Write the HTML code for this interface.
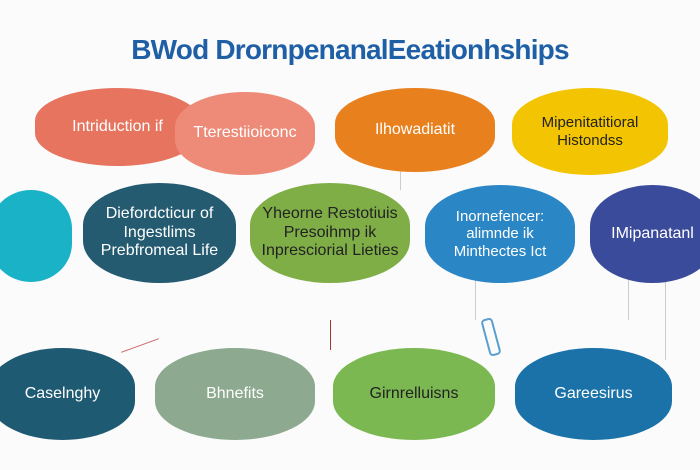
<!DOCTYPE html>
<html><head><meta charset="utf-8"><style>
body{margin:0;width:700px;height:470px;background:#fbfbfb;position:relative;overflow:hidden;font-family:"Liberation Sans",sans-serif}
.t{position:absolute;left:0;width:700px;top:34px;text-align:center;font-size:28px;font-weight:bold;color:#1e5fa5;letter-spacing:-0.8px}
.n{position:absolute;display:flex;align-items:center;justify-content:center;text-align:center;border-radius:50%/42%;font-size:16px;line-height:1.15}
.w{color:#fff}.d{color:#222}
.l{position:absolute;background:#ccc}
</style></head><body>
<div class="t">BWod DrornpenanalEeationhships</div>
<div class="l" style="left:400px;top:170px;width:1px;height:20px"></div>
<div class="l" style="left:475px;top:280px;width:1px;height:40px"></div>
<div class="l" style="left:628px;top:280px;width:1px;height:40px"></div>
<div class="l" style="left:665px;top:280px;width:1px;height:80px"></div>
<div class="l" style="left:120px;top:345px;width:40px;height:1px;transform:rotate(-20deg);background:#c66"></div>
<div class="l" style="left:330px;top:320px;width:1px;height:30px;background:#a33"></div>
<div class="l" style="left:485px;top:318px;width:8px;height:34px;border:2px solid #5b9fd0;background:none;border-radius:4px;transform:rotate(-15deg)"></div>
<div class="n w" style="left:35px;top:88px;width:165px;height:78px;background:#e6745f">Intriduction if</div>
<div class="n w" style="left:175px;top:92px;width:140px;height:83px;background:#ee8b78">Tterestiioiconc</div>
<div class="n w" style="left:335px;top:88px;width:160px;height:84px;background:#e8801e">Ilhowadiatit</div>
<div class="n d" style="left:512px;top:88px;width:156px;height:87px;background:#f3c402;font-size:15px">Mipenitatitioral<br>Histondss</div>
<div class="n" style="left:-10px;top:190px;width:82px;height:92px;background:#19b2c6"></div>
<div class="n d" style="left:83px;top:183px;width:153px;height:100px;background:#245b70;color:#fff">Diefordcticur of<br>Ingestlims<br>Prebfromeal Life</div>
<div class="n d" style="left:250px;top:183px;width:160px;height:100px;background:#7fae47">Yheorne Restotiuis<br>Presoihmp ik<br>Inpresciorial Lieties</div>
<div class="n w" style="left:425px;top:185px;width:150px;height:98px;background:#2a86c4;font-size:15px">Inornefencer:<br>alimnde ik<br>Minthectes Ict</div>
<div class="n w" style="left:590px;top:185px;width:125px;height:98px;background:#3b4b9b">IMipanatanl</div>
<div class="n d" style="left:-10px;top:348px;width:145px;height:92px;background:#1f5a73;color:#fff">Caselnghy</div>
<div class="n d" style="left:155px;top:348px;width:160px;height:92px;background:#8da98f;color:#fff">Bhnefits</div>
<div class="n d" style="left:333px;top:348px;width:162px;height:92px;background:#7bb851">Girnrelluisns</div>
<div class="n w" style="left:515px;top:348px;width:157px;height:92px;background:#1a72a8">Gareesirus</div>
</body></html>
